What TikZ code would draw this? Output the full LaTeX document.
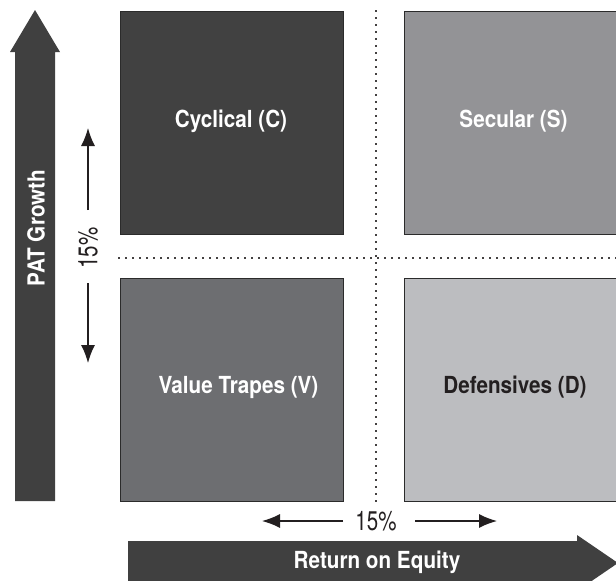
\documentclass[tikz,border=0pt]{standalone}
\usepackage{fontspec}
\setmainfont{TeX Gyre Heros}[FakeStretch=0.88]
\newfontfamily\pctfont{TeX Gyre Heros}[FakeStretch=0.76]
\usetikzlibrary{arrows.meta}
\definecolor{bigarrow}{HTML}{404040}
\definecolor{qC}{HTML}{414141}
\definecolor{qS}{HTML}{939396}
\definecolor{qV}{HTML}{6D6E71}
\definecolor{qD}{HTML}{BCBDC0}
\definecolor{ink}{HTML}{231F20}
\definecolor{edge}{HTML}{2B2B2B}
\tikzset{
  quad/.style={draw=edge, line width=1pt, inner sep=0pt, outer sep=0pt, minimum width=223pt, minimum height=223pt},
  qlabel/.style={inner sep=0pt, font=\fontsize{23.5}{27}\selectfont\bfseries},
  pct/.style={inner sep=0pt, text=ink, font=\pctfont\fontsize{27}{30}\selectfont},
  thinarrow/.style={draw=ink, line width=1.3pt, -{Latex[length=18pt,width=14pt]}},
  dotline/.style={draw=ink!85, line width=1.1pt, dash pattern=on 2pt off 5pt},
  bigfill/.style={fill=bigarrow}
}
\begin{document}
\begin{tikzpicture}[x=1pt,y=-1pt]
\useasboundingbox (0,0) rectangle (616,581);
\clip (0,0) rectangle (616,581);
% dotted separators
\draw[dotline] (376,10) -- (376,505);
\draw[dotline] (118,258) -- (616,258);
% quadrants
\node[quad, fill=qC] (C) at (231.5,122.5) {};
\node[quad, fill=qS] (S) at (515.5,122.5) {};
\node[quad, fill=qV] (V) at (231.5,389.5) {};
\node[quad, fill=qD] (D) at (515.5,389.5) {};
\node[qlabel, text=white] (Ct) at (231,121) {Cyclical (C)};
\node[qlabel, text=white] (St) at (513.5,121) {Secular (S)};
\node[qlabel, text=white] (Vt) at (238.5,387) {Value Trapes (V)};
\node[qlabel, text=ink] (Dt) at (515,387) {Defensives (D)};
% big vertical arrow
\fill[bigfill] (15,501) -- (15,52) -- (10,52) -- (35,10) -- (60,52) -- (55,52) -- (55,501) -- cycle;
\node[qlabel, text=white, rotate=90] (pat) at (36,228) {PAT Growth};
% big horizontal arrow
\fill[bigfill] (128,541) -- (577,541) -- (577,535) -- (618,563) -- (577,591) -- (577,585) -- (128,585) -- cycle;
\node[qlabel, text=white] (roe) at (377,562) {Return on Equity};
% vertical 15% marker
\coordinate (u1) at (88,210);
\coordinate (u2) at (88,128);
\coordinate (d1) at (88,283);
\coordinate (d2) at (88,363);
\draw[thinarrow] (u1) -- (u2);
\draw[thinarrow] (d1) -- (d2);
\node[pct, rotate=90] (pv) at (88,248) {15\%};
% horizontal 15% marker
\coordinate (l1) at (343,521);
\coordinate (l2) at (262,521);
\coordinate (r1) at (415,521);
\coordinate (r2) at (497,521);
\draw[thinarrow] (l1) -- (l2);
\draw[thinarrow] (r1) -- (r2);
\node[pct] (ph) at (376,521) {15\%};
\end{tikzpicture}
\end{document}
